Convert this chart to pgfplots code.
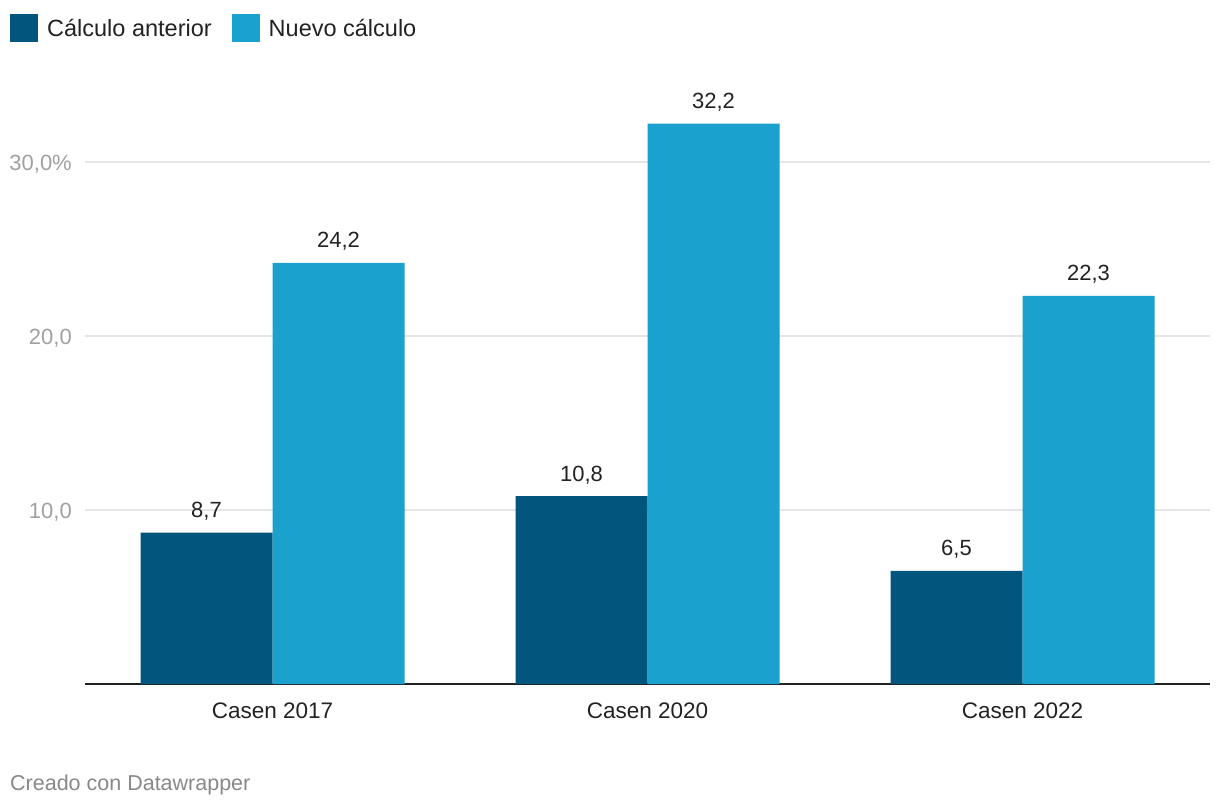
\documentclass[border=0pt]{standalone}
\usepackage{pgfplots}
\pgfplotsset{compat=1.18}
\usepackage{fontspec}
\setmainfont{Liberation Sans}
\definecolor{dark}{HTML}{02557D}
\definecolor{light}{HTML}{1AA1CE}
\definecolor{gridc}{HTML}{E5E5E5}
\definecolor{ticklab}{HTML}{A0A0A0}
\definecolor{foot}{HTML}{888888}
\definecolor{txt}{HTML}{222222}
\begin{document}
\begin{tikzpicture}
\useasboundingbox (0,0) rectangle (1220pt,-806pt);
\begin{axis}[
  at={(85pt,-684pt)}, anchor=south west,
  scale only axis, width=1125pt, height=591.6pt,
  xmin=-0.5, xmax=2.5, ymin=0, ymax=34,
  ybar, bar width=132pt,
  axis x line*=bottom, axis y line*=left,
  x axis line style={-, line width=2pt, color=txt},
  y axis line style={draw=none},
  major tick length=0pt,
  /pgf/number format/assume math mode=true,
  ytick={10,20,30},
  yticklabels={{10,0},{20,0},{30,0\%}},
  yticklabel style={anchor=base east, inner sep=0pt, xshift=-13pt, yshift=-8pt, font=\fontsize{22}{22}\selectfont, text=ticklab},
  xtick={0,1,2},
  xticklabels={Casen 2017,Casen 2020,Casen 2022},
  xticklabel style={anchor=base, inner sep=0pt, yshift=-34pt, font=\fontsize{22.5}{22.5}\selectfont, text=txt},
  ymajorgrids, grid style={gridc, line width=1.3pt},
  nodes near coords={\pgfmathprintnumber[fixed,fixed zerofill,precision=1,use comma]{\pgfplotspointmeta}},
  every node near coord/.append style={anchor=base, inner sep=0pt, yshift=15pt, font=\fontsize{22}{22}\selectfont, text=txt},
  legend columns=2,
  legend cell align=left,
  legend style={at={(-0.0667,1.1325)}, anchor=north west, draw=none, fill=none, inner sep=0pt,
    font=\fontsize{23.5}{23.5}\selectfont, text=txt,
    /tikz/every odd column/.append style={column sep=7pt},
    /tikz/every even column/.append style={column sep=18pt}},
]
\addplot[fill=dark, draw=none, bar shift=-66pt,
  legend image code/.code={\fill[dark] (0pt,-14pt) rectangle (28pt,14pt);}]
  coordinates {(0,8.7) (1,10.8) (2,6.5)};
\addlegendentry{Cálculo anterior}
\addplot[fill=light, draw=none, bar shift=66pt,
  legend image code/.code={\fill[light] (0pt,-14pt) rectangle (28pt,14pt);}]
  coordinates {(0,24.2) (1,32.2) (2,22.3)};
\addlegendentry{Nuevo cálculo}
\end{axis}
\node[anchor=base west, inner sep=0pt, font=\fontsize{21.5}{21.5}\selectfont, text=foot] at (10pt,-790pt) {Creado con Datawrapper};
\end{tikzpicture}
\end{document}
